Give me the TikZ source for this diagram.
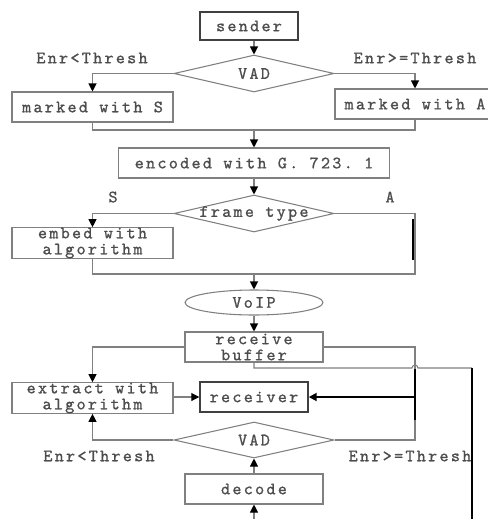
\documentclass[tikz,border=0pt]{standalone}
\usepackage{fontspec}
\newfontfamily\monof{lmmono10-regular.otf}[LetterSpace=13,FakeBold=1]
\usetikzlibrary{shapes.geometric,arrows.meta}
\begin{document}
\begin{tikzpicture}[x=0.75pt,y=-0.75pt,
  txt/.style={font=\fontsize{13}{12}\monof,text=black!70},
  box/.style={txt,draw=black!50,line width=0.8pt,rectangle,inner sep=0pt,align=center},
  darkbox/.style={box,draw=black!75,line width=1.1pt},
  dia/.style={draw=black!50,line width=0.8pt,diamond,inner sep=0pt,minimum width=160*0.75pt,minimum height=37*0.75pt},
  ell/.style={txt,draw=black!50,line width=0.8pt,ellipse,inner sep=0pt},
  ln/.style={draw=black!50,line width=0.8pt},
  arr/.style={ln,-{Triangle[width=6pt,length=6pt,color=black]}},
  thk/.style={draw=black,line width=1.4pt},
  thkarr/.style={thk,-{Triangle[width=6pt,length=6pt,color=black]}},
  lab/.style={txt,inner sep=0pt}
]
\useasboundingbox (0,0) rectangle (488,519);
\clip (0,0) rectangle (488,519);

\node[darkbox,minimum width=98*0.75pt,minimum height=28*0.75pt] (sender) at (249,26) {sender};
\node[dia,label={[txt]center:VAD}] (vad1) at (254,73.5) {};
\node[lab] (l1) at (92,58) {Enr<Thresh};
\node[lab] (l2) at (415,58) {Enr>=Thresh};
\node[box,minimum width=161*0.75pt,minimum height=30*0.75pt] (markS) at (92.5,107) {marked with S};
\node[box,minimum width=160*0.75pt,minimum height=30*0.75pt] (markA) at (415,104) {marked with A};
\coordinate (m1) at (254,130);
\node[box,minimum width=271*0.75pt,minimum height=30*0.75pt] (enc) at (254,163) {encoded with G.~723.~1};
\node[dia,label={[txt]center:frame type}] (ft) at (254,213.5) {};
\node[lab] (ls) at (113,197) {S};
\node[lab] (la) at (390,197) {A};
\node[box,minimum width=161*0.75pt,minimum height=30*0.75pt] (embed) at (92.5,243) {embed with\\algorithm};
\coordinate (m2) at (254,274);
\coordinate (c2) at (415,274);
\node[ell,minimum width=138*0.75pt,minimum height=25*0.75pt] (voip) at (254,302.5) {VoIP};
\node[box,minimum width=138*0.75pt,minimum height=30*0.75pt] (rb) at (254,347) {receive\\buffer};
\node[box,minimum width=161*0.75pt,minimum height=28*0.75pt] (extract) at (92.5,398) {extract with\\algorithm};
\node[darkbox,minimum width=108*0.75pt,minimum height=30*0.75pt] (receiver) at (254,397) {receiver};
\node[dia,minimum height=36*0.75pt,label={[txt]center:VAD}] (vad2) at (254,440) {};
\node[lab] (l3) at (99,456) {Enr<Thresh};
\node[lab] (l4) at (410,456) {Enr>=Thresh};
\node[box,minimum width=138*0.75pt,minimum height=30*0.75pt] (decode) at (254,489) {decode};

% top part
\draw[arr] (sender.south -| vad1.north) -- (vad1.north);
\draw[arr] (vad1.west) -| (markS.north);
\draw[arr] (vad1.east) -| (markA.north);
\draw[ln] (markS.south) |- (m1) -| (markA.south);
\draw[arr] (m1) -- (enc.north);
\draw[arr] (enc.south) -- (ft.north);
\draw[arr] (ft.west) -| (embed.north);
\draw[ln] (embed.south) |- (c2) |- (ft.east);
\coordinate (b1) at (413,219);
\coordinate (b2) at (413,260);
\draw[thk] (b1) -- (b2);
\draw[arr] (m2) -- (voip.north);
\draw[arr] (voip.south) -- (rb.north);

% lower part
\draw[arr] (rb.west) -| (extract.north);
\coordinate (r1) at (415,347);
\coordinate (r2) at (415,369);
\coordinate (r3) at (415,420);
\coordinate (r4) at (415,440);
\draw[ln] (rb.east) -- (r1) -- (r2);
\draw[thk] (r2) -- (r3);
\draw[ln] (r3) -- (r4) -- (vad2.east);
\draw[thkarr] (r2 |- receiver.east) -- (receiver.east);
\draw[arr] (extract.east |- receiver.west) -- (receiver.west);
\draw[arr] (vad2.west) -| (extract.south);
\draw[arr] (decode.north) -- (vad2.south);

\coordinate (f1) at (254,368);
\coordinate (f2) at (412,368);
\coordinate (f4) at (472,368);
\coordinate (f5) at (472,535);
\coordinate (f6) at (254,535);
\draw[ln] (rb.south) -- (f1) -- (f2) arc[start angle=180,end angle=0,radius=2.25pt] -- (f4);
\draw[draw=black,line width=1.1pt] (f4) -- (f5);
\draw[arr] (f5) -- (f6) -- (decode.south);
\end{tikzpicture}
\end{document}
